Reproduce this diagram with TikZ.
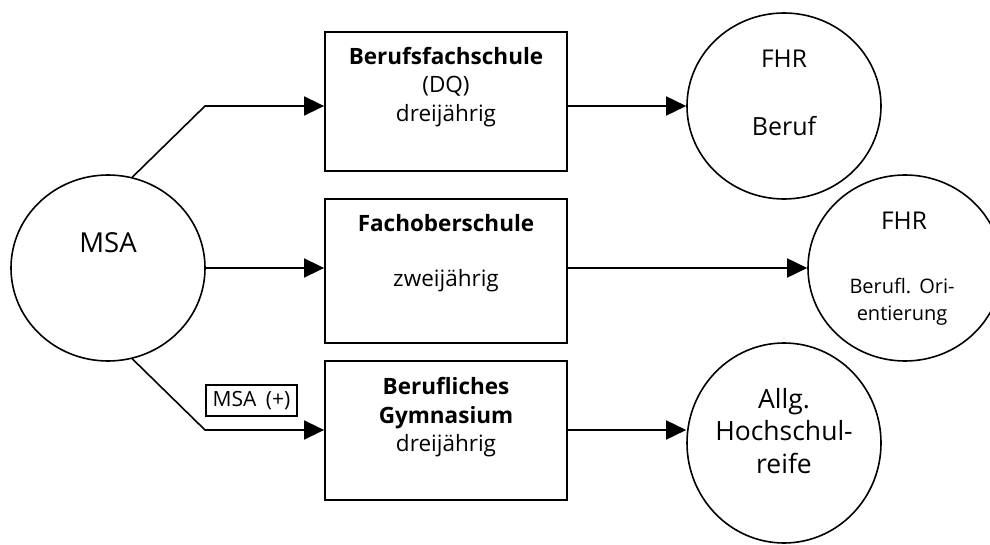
\documentclass[tikz,border=0pt]{standalone}
\usepackage{fontspec}
\setmainfont{Open Sans}
\usetikzlibrary{shapes.geometric,arrows.meta}
\begin{document}
\begin{tikzpicture}[x=1pt,y=-1pt,
  oval/.style={draw,ellipse,line width=1.6pt,inner sep=0pt,minimum width=194pt,minimum height=186pt},
  box/.style={draw,rectangle,line width=1.8pt,inner sep=0pt,minimum width=242pt},
  conn/.style={line width=1.6pt,-{Triangle[length=20pt,width=19pt]}},
  tb/.style={anchor=base,inner sep=0pt,font=\fontsize{22.5}{28}\selectfont\bfseries},
  tn/.style={anchor=base,inner sep=0pt,font=\fontsize{22.5}{28}\selectfont},
  tc/.style={anchor=base,inner sep=0pt,font=\fontsize{25}{30}\selectfont},
  ts/.style={anchor=base,inner sep=0pt,font=\fontsize{20}{22}\selectfont},
  tag/.style={draw,line width=1.2pt,inner sep=0pt,minimum width=91pt,minimum height=31pt,font=\fontsize{21}{22}\selectfont}
]
\useasboundingbox (0,0) rectangle (990,545);
\clip (0,0) rectangle (990,545);

% nodes
\node[oval] (msa) at (108,268) {};
\node[box,minimum height=139pt] (b1) at (446,101.5) {};
\node[box,minimum height=144pt] (b2) at (446,271) {};
\node[box,minimum height=139pt] (b3) at (446,430.5) {};
\node[oval] (c1) at (784,106) {};
\node[oval] (c2) at (905,268) {};
\node[oval,minimum height=200pt] (c3) at (784,443) {};
\node[tag] (plus) at (251.5,400.5) {MSA\hspace{0.45em}(+)};

% texts
\node[tc,font=\fontsize{27.5}{30}\selectfont] (tmsa) at (108,253) {MSA};
\node[tb] (t1a) at (446,65) {Berufsfachschule};
\node[tn] (t1b) at (446,93) {(DQ)};
\node[tn] (t1c) at (446,122) {dreijährig};
\node[tb] (t2a) at (446,232) {Fachoberschule};
\node[tn] (t2b) at (446,287) {zweijährig};
\node[tb] (t3a) at (446,394) {Berufliches};
\node[tb] (t3b) at (446,423) {Gymnasium};
\node[tn] (t3c) at (446,451) {dreijährig};
\node[tc,font=\fontsize{24.5}{30}\selectfont] (tc1a) at (784,68) {FHR};
\node[tc] (tc1b) at (784,136) {Beruf};
\node[tc,font=\fontsize{24.5}{30}\selectfont] (tc2a) at (904,230) {FHR};
\node[ts] (tc2b) at (902,293) {Berufl.\hspace{0.4em}Ori-};
\node[ts] (tc2c) at (902,320) {entierung};
\node[tc,font=\fontsize{26.5}{30}\selectfont] (tc3a) at (784,408) {Allg.};
\node[tc,font=\fontsize{26.5}{30}\selectfont] (tc3b) at (784,440) {Hochschul-};
\node[tc,font=\fontsize{26.5}{30}\selectfont] (tc3c) at (784,473) {reife};

% bend points
\coordinate (k1) at (205,106);
\coordinate (k3) at (205,430);

% connectors
\draw[conn] (msa.75) -- (k1) -- (k1 -| b1.west);
\draw[conn] (msa.east) -- (msa.east -| b2.west);
\draw[conn] (msa.-75) -- (k3) -- (k3 -| b3.west);
\draw[conn] (k1 -| b1.east) -- (c1.west);
\draw[conn] (msa.east -| b2.east) -- (c2.west);
\draw[conn] (k3 -| b3.east) -- (k3 -| c3.west);
\end{tikzpicture}
\end{document}
